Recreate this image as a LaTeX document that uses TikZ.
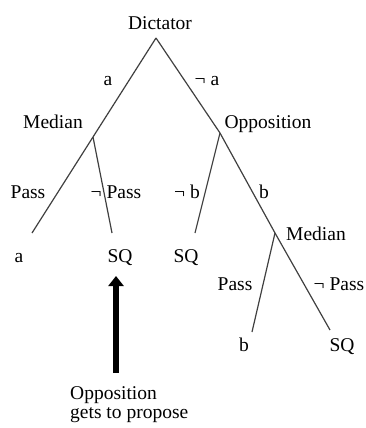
\documentclass[tikz,border=0pt]{standalone}
\usepackage{fontspec}
\setmainfont{Liberation Serif}
\usetikzlibrary{arrows.meta}
\begin{document}
\begin{tikzpicture}[x=1pt,y=-1pt,
  lbl/.style={anchor=base,inner sep=0pt,font=\fontsize{19.5}{23}\selectfont},
  lblw/.style={anchor=base west,inner sep=0pt,font=\fontsize{19.5}{23}\selectfont},
  edge/.style={draw=black!75,line width=1.2pt}]
\useasboundingbox (0,0) rectangle (365,428);
% junctions and leaf ends
\coordinate (root) at (156,38);
\coordinate (med1) at (93,137);
\coordinate (opp) at (220,133);
\coordinate (med2) at (275,233);
\coordinate (la) at (32,233);
\coordinate (lsq1) at (112,233);
\coordinate (lsq2) at (195,233);
\coordinate (lb) at (252,332);
\coordinate (lsq3) at (330,330);
% edges
\draw[edge] (root) -- (med1) -- (la);
\draw[edge] (med1) -- (lsq1);
\draw[edge] (root) -- (opp) -- (med2) -- (lsq3);
\draw[edge] (opp) -- (lsq2);
\draw[edge] (med2) -- (lb);
% labels
\node[lbl] (tdict) at (160,30) {Dictator};
\node[lbl] (ta) at (108,85) {a};
\node[lbl] (tna) at (207,85) {¬ a};
\node[lbl] (tmed1) at (53,128) {Median};
\node[lbl] (topp) at (268,128) {Opposition};
\node[lbl] (tpass1) at (28,198) {Pass};
\node[lbl] (tnpass1) at (116,198) {¬ Pass};
\node[lbl] (tnb) at (187,198) {¬ b};
\node[lbl] (tb) at (264,198) {b};
\node[lbl] (tmed2) at (316,240) {Median};
\node[lbl] (leafa) at (19,262) {a};
\node[lbl] (leafsq1) at (120,262) {SQ};
\node[lbl] (leafsq2) at (186,262) {SQ};
\node[lbl] (tpass2) at (235,290) {Pass};
\node[lbl] (tnpass2) at (339,290) {¬ Pass};
\node[lbl] (leafb) at (244,351) {b};
\node[lbl] (leafsq3) at (342,351) {SQ};
\node[lblw] (note1) at (70,399) {Opposition};
\node[lblw] (note2) at (70,418) {gets to propose};
% arrow
\coordinate (arrtail) at (116,373);
\coordinate (arrhead) at (116,276);
\draw[line width=6pt,-{Triangle[length=10pt,width=15pt]}] (arrtail) -- (arrhead);
\end{tikzpicture}
\end{document}
